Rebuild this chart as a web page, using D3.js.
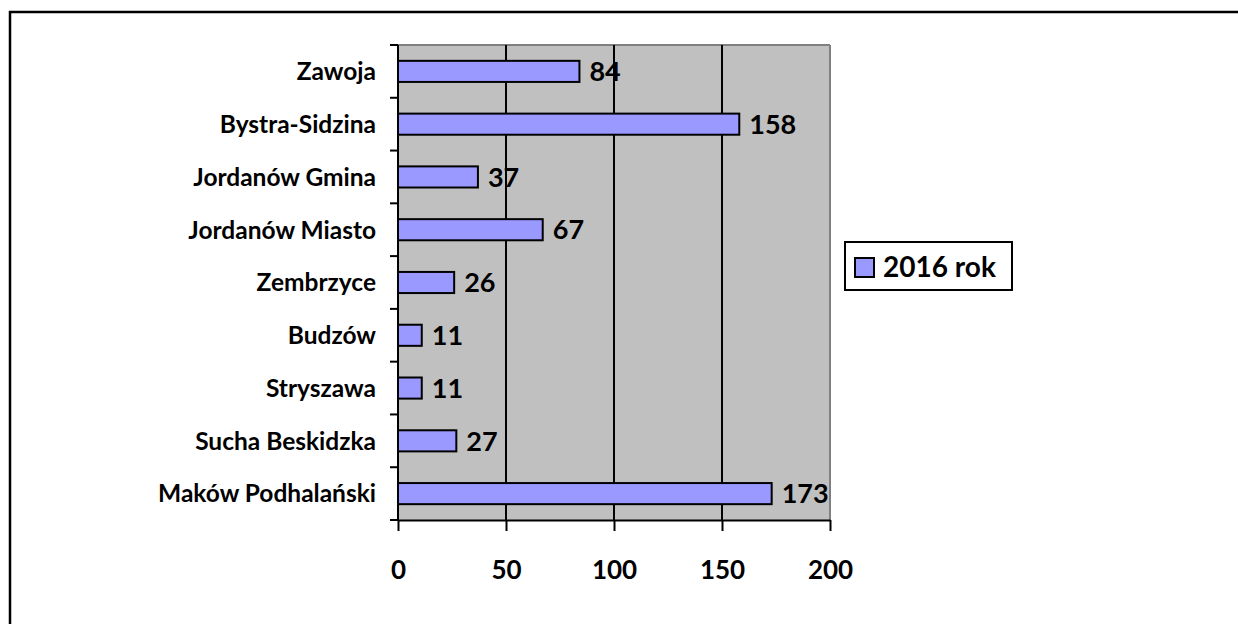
<!DOCTYPE html>
<html><head><meta charset="utf-8">
<script src="https://cdn.jsdelivr.net/npm/d3@7"></script>
<style>html,body{margin:0;padding:0;background:#fff;overflow:hidden}</style>
</head><body>
<svg id="c" width="1238" height="624"></svg>
<script>
const categories = ["Zawoja","Bystra-Sidzina","Jordanów Gmina","Jordanów Miasto","Zembrzyce","Budzów","Stryszawa","Sucha Beskidzka","Maków Podhalański"];
const values2016 = [84,158,37,67,26,11,11,27,173];
const seriesName = "2016 rok";
const xTicks = [0,50,100,150,200];

const svg = d3.select("#c");
const FONT = "Lato, 'Open Sans', sans-serif";
// outer border
svg.append("rect").attr("x",10).attr("y",12).attr("width",1300).attr("height",700)
  .attr("fill","none").attr("stroke","#000").attr("stroke-width",2.5);

const L=398, R=830, T=45, B=520;
const x = d3.scaleLinear().domain([0,200]).range([L,R]);
const y = d3.scaleBand().domain(categories).range([T,B]).paddingInner(0.6).paddingOuter(0.3);

svg.append("rect").attr("x",L).attr("y",T).attr("width",R-L).attr("height",B-T).attr("fill","#c0c0c0");
svg.append("line").attr("x1",L).attr("x2",R).attr("y1",T).attr("y2",T).attr("stroke","#808080").attr("stroke-width",2);
svg.append("line").attr("x1",R).attr("x2",R).attr("y1",T).attr("y2",B).attr("stroke","#808080").attr("stroke-width",2);

// gridlines
svg.append("g").selectAll("line").data(xTicks.slice(1,-1)).join("line")
  .attr("x1",d=>x(d)).attr("x2",d=>x(d)).attr("y1",T).attr("y2",B)
  .attr("stroke","#000").attr("stroke-width",2);

// bars
svg.append("g").selectAll("rect").data(categories).join("rect")
  .attr("x",x(0)).attr("y",d=>y(d)).attr("width",(d,i)=>x(values2016[i])-x(0)).attr("height",y.bandwidth())
  .attr("fill","#9999ff").attr("stroke","#000").attr("stroke-width",2);

// value labels
svg.append("g").selectAll("text").data(categories).join("text")
  .attr("x",(d,i)=>x(values2016[i])+10).attr("y",d=>y(d)+y.bandwidth()/2).attr("dy","0.36em")
  .attr("font-family",FONT).attr("font-weight","bold").attr("font-size",27).attr("fill","#000")
  .text((d,i)=>values2016[i]);

// x axis
const xa = svg.append("g").attr("transform",`translate(0,${B})`)
  .call(d3.axisBottom(x).tickValues(xTicks).tickSize(11).tickSizeOuter(0).tickPadding(30));
xa.select(".domain").attr("stroke","#000").attr("stroke-width",2);
xa.selectAll(".tick line").attr("stroke","#000").attr("stroke-width",2);
xa.selectAll("text").attr("font-family",FONT).attr("font-weight","bold").attr("font-size",26).attr("fill","#000");

// y axis: ticks at band boundaries
const bounds = d3.range(categories.length+1).map(i=>T+(B-T)*i/categories.length);
svg.append("line").attr("x1",L).attr("x2",L).attr("y1",T).attr("y2",B).attr("stroke","#000").attr("stroke-width",2);
svg.append("g").selectAll("line").data(bounds).join("line")
  .attr("x1",L-8).attr("x2",L).attr("y1",d=>d).attr("y2",d=>d).attr("stroke","#000").attr("stroke-width",2);
svg.append("g").selectAll("text").data(categories).join("text")
  .attr("x",L-22).attr("y",d=>y(d)+y.bandwidth()/2).attr("dy","0.36em").attr("text-anchor","end")
  .attr("font-family",FONT).attr("font-weight","bold").attr("font-size",24.5).attr("fill","#000")
  .text(d=>d);

// legend
const lg = svg.append("g");
lg.append("rect").attr("x",845).attr("y",242).attr("width",167).attr("height",48).attr("fill","#fff").attr("stroke","#000").attr("stroke-width",2);
lg.append("rect").attr("x",855).attr("y",258).attr("width",19).attr("height",19).attr("fill","#9999ff").attr("stroke","#000").attr("stroke-width",2);
lg.append("text").attr("x",883).attr("y",267).attr("dy","0.36em").attr("font-family",FONT).attr("font-weight","bold").attr("font-size",28).text(seriesName);
</script>
</body></html>
